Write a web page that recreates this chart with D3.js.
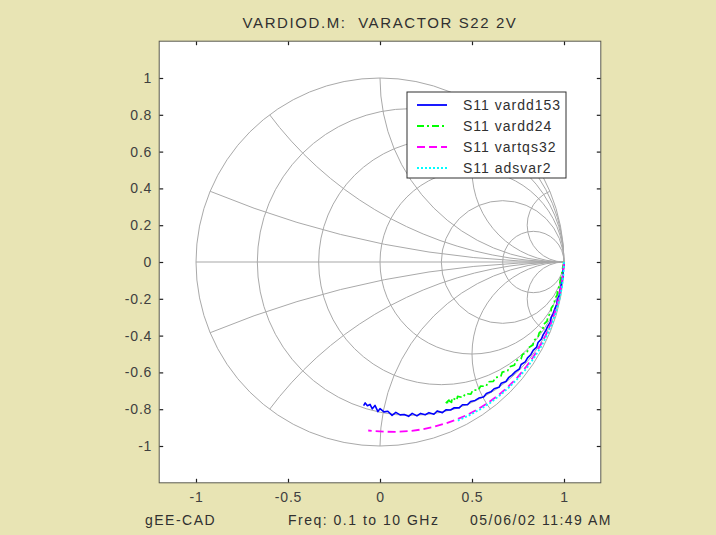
<!DOCTYPE html>
<html>
<head>
<meta charset="utf-8">
<script src="https://cdn.jsdelivr.net/npm/d3@7"></script>
<style>
  html, body { margin: 0; padding: 0; background: #e8e4b4; }
  svg { display: block; }
  text { font-family: "Liberation Sans", Arial, Helvetica, sans-serif; }
</style>
</head>
<body>
<svg id="chart" width="716" height="535"></svg>
<script>
// ---- Smith chart grid values ----
const resistanceCircles = [0.2, 0.5, 1, 2, 5];
const reactanceArcs = [0.2, 0.5, 1, 2, 5, -0.2, -0.5, -1, -2, -5];

// ---- axis ticks ----
const xTicks = [-1, -0.5, 0, 0.5, 1];
const xTickLabels = ["-1", "-0.5", "0", "0.5", "1"];
const yTicks = [1, 0.8, 0.6, 0.4, 0.2, 0, -0.2, -0.4, -0.6, -0.8, -1];
const yTickLabels = ["1", "0.8", "0.6", "0.4", "0.2", "0", "-0.2", "-0.4", "-0.6", "-0.8", "-1"];

// ---- S11 traces, 0.1 to 10 GHz: phase (deg) and magnitude ----
const vardd153Ang = [0, -1.5, -3, -4.5, -6, -7.5, -9, -10.5, -12, -13.5, -15, -16.5, -18, -19.5, -21, -22.5,
  -24, -25.5, -27, -28.5, -30, -31.5, -33, -34.5, -36, -37.5, -39, -40.5, -42, -43.5, -45, -46.5,
  -48, -49.5, -51, -52.5, -54, -55.5, -57, -58.5, -60, -61.5, -63, -64.5, -66, -67.5, -69, -70.5,
  -72, -73.5, -75, -76.5, -78, -79.5, -81, -82.5, -84, -85.5, -87, -88.5, -90, -90.8, -92, -93,
  -94, -95, -96, -96.5];
const vardd153Mag = [1.000, 0.998, 0.995, 0.997, 0.993, 0.992, 0.990, 0.991, 0.985, 0.988, 0.984, 0.983, 0.978, 0.982, 0.976, 0.975,
  0.971, 0.972, 0.964, 0.969, 0.961, 0.962, 0.956, 0.958, 0.948, 0.955, 0.947, 0.945, 0.940, 0.944, 0.932, 0.939,
  0.927, 0.928, 0.919, 0.925, 0.914, 0.913, 0.904, 0.910, 0.896, 0.902, 0.889, 0.891, 0.880, 0.886, 0.867, 0.878,
  0.861, 0.866, 0.852, 0.860, 0.841, 0.853, 0.839, 0.838, 0.822, 0.836, 0.812, 0.815, 0.797, 0.813, 0.780, 0.799,
  0.776, 0.784, 0.770, 0.786];

const vardd24Ang = [0, -1.5, -3, -4.5, -6, -7.5, -9, -10.5, -12, -13.5, -15, -16.5, -18, -19.5, -21, -22.5,
  -24, -25.5, -27, -28.5, -30, -31.5, -33, -34.5, -36, -37.5, -39, -40.5, -42, -43.5, -45, -46.5,
  -48, -49.5, -51, -52.5, -54, -55.5, -57, -58.5, -60, -61, -62, -63, -64, -64.5, -63.5, -65];
const vardd24Mag = [1.000, 0.994, 0.991, 0.988, 0.984, 0.985, 0.977, 0.979, 0.971, 0.974, 0.964, 0.969, 0.960, 0.963, 0.951, 0.958,
  0.947, 0.951, 0.938, 0.946, 0.932, 0.938, 0.923, 0.930, 0.913, 0.921, 0.905, 0.912, 0.894, 0.905, 0.887, 0.895,
  0.876, 0.889, 0.868, 0.879, 0.859, 0.872, 0.852, 0.864, 0.843, 0.860, 0.836, 0.856, 0.832, 0.853, 0.839, 0.846];

const vartqs32Ang = [0, -4, -8, -12, -16, -20, -24, -28, -32, -36, -40, -44, -48, -52, -56, -60, -64, -68, -72, -76,
  -80, -84, -88, -92, -94];
const vartqs32Mag = [1.000, 0.996, 0.993, 0.991, 0.989, 0.987, 0.985, 0.982, 0.980, 0.977, 0.975, 0.972, 0.969, 0.965,
  0.961, 0.957, 0.952, 0.947, 0.942, 0.938, 0.933, 0.928, 0.923, 0.919, 0.918];

const adsvar2Ang = [0, -4, -8, -12, -16, -20, -24, -28, -32, -36, -40, -44, -48, -52, -56, -60, -64];
const adsvar2Mag = [1.000, 0.999, 0.998, 0.996, 0.995, 0.993, 0.991, 0.989, 0.986, 0.984, 0.981, 0.978, 0.975,
  0.972, 0.968, 0.964, 0.960];

const seriesNames = ["S11 vardd153", "S11 vardd24", "S11 vartqs32", "S11 adsvar2"];
const seriesColors = ["#0000ff", "#00ff00", "#ff00ff", "#00ffff"];
const seriesDash = [null, "7,3,2,3", "8,4", "2,2"];
const seriesWidth = [1.6, 1.7, 1.8, 1.8];

const series = [
  { ang: vardd153Ang, mag: vardd153Mag },
  { ang: vardd24Ang, mag: vardd24Mag },
  { ang: vartqs32Ang, mag: vartqs32Mag },
  { ang: adsvar2Ang, mag: adsvar2Mag }
].map((s, i) => ({
  name: seriesNames[i], color: seriesColors[i], dash: seriesDash[i], width: seriesWidth[i],
  pts: s.ang.map((a, k) => {
    const t = a * Math.PI / 180;
    return [s.mag[k] * Math.cos(t), s.mag[k] * Math.sin(t)];
  })
}));

// ---- layout ----
const svg = d3.select("#chart");
const W = 716, H = 535;
const cx = 380, cy = 262, unit = 184;
const x = d3.scaleLinear().domain([-1.2, 1.2]).range([cx - 1.2 * unit, cx + 1.2 * unit]);
const y = d3.scaleLinear().domain([-1.2, 1.2]).range([cy + 1.2 * unit, cy - 1.2 * unit]);
const sx = v => x(v) - x(0);   // length along x in px
const textCol = "#303030";

svg.append("rect").attr("width", W).attr("height", H).attr("fill", "#e8e4b4");

const x0 = x(-1.2), x1 = x(1.2), y0 = y(1.2), y1 = y(-1.2);
svg.append("rect")
  .attr("x", x0).attr("y", y0).attr("width", x1 - x0).attr("height", y1 - y0)
  .attr("fill", "#ffffff");

// ---- Smith grid ----
svg.append("clipPath").attr("id", "unitDisc")
  .append("circle").attr("cx", x(0)).attr("cy", y(0)).attr("r", sx(1));

const grid = svg.append("g").attr("fill", "none").attr("stroke", "#a9a9a9").attr("stroke-width", 1);

grid.append("line")
  .attr("x1", x(-1)).attr("x2", x(1)).attr("y1", y(0)).attr("y2", y(0))
  .attr("stroke", "#c4c4c4").attr("stroke-width", 1.5);

grid.selectAll("circle.r").data(resistanceCircles).join("circle")
  .attr("class", "r")
  .attr("cx", r => x(r / (1 + r))).attr("cy", y(0))
  .attr("r", r => sx(1 / (1 + r)));

grid.append("g").attr("clip-path", "url(#unitDisc)")
  .selectAll("circle").data(reactanceArcs).join("circle")
  .attr("cx", x(1)).attr("cy", v => y(1 / v))
  .attr("r", v => sx(1 / Math.abs(v)));

grid.append("circle").attr("cx", x(0)).attr("cy", y(0)).attr("r", sx(1));

// ---- traces ----
const line = d3.line().x(d => x(d[0])).y(d => y(d[1]));
svg.append("g").selectAll("path").data(series).join("path")
  .attr("d", d => line(d.pts))
  .attr("fill", "none")
  .attr("stroke", d => d.color)
  .attr("stroke-width", d => d.width)
  .attr("stroke-linejoin", "round")
  .attr("stroke-dasharray", d => d.dash);

// ---- axes (ticks inside on all sides) ----
const gl = svg.append("g").attr("transform", `translate(${x0},0)`)
  .call(d3.axisLeft(y).tickValues(yTicks).tickSize(-4).tickPadding(7)
    .tickFormat((d, i) => yTickLabels[i]));
const gr = svg.append("g").attr("transform", `translate(${x1},0)`)
  .call(d3.axisRight(y).tickValues(yTicks).tickSize(-4).tickFormat(""));
const gb = svg.append("g").attr("transform", `translate(0,${y1})`)
  .call(d3.axisBottom(x).tickValues(xTicks).tickSize(-4).tickPadding(9)
    .tickFormat((d, i) => xTickLabels[i]));
const gt = svg.append("g").attr("transform", `translate(0,${y0})`)
  .call(d3.axisTop(x).tickValues(xTicks).tickSize(-4).tickFormat(""));
[gl, gr, gb, gt].forEach(g => {
  g.select(".domain").remove();
  g.selectAll(".tick line").attr("stroke", "#202020").attr("stroke-width", 1.2);
  g.selectAll(".tick text").attr("fill", "#404040").attr("font-size", 14)
    .attr("letter-spacing", 0.8)
    .style("font-family", "'Liberation Sans', Arial, sans-serif");
});

svg.append("rect")
  .attr("x", x0).attr("y", y0).attr("width", x1 - x0).attr("height", y1 - y0)
  .attr("fill", "none").attr("stroke", "#5a5a50").attr("stroke-width", 1);

// ---- legend ----
const lg = svg.append("g");
const lgX = 407, lgY = 92, lgW = 159, lgH = 86, rowH = 21;
lg.append("rect").attr("x", lgX).attr("y", lgY).attr("width", lgW).attr("height", lgH)
  .attr("fill", "#ffffff").attr("stroke", "#303030").attr("stroke-width", 1);
const rows = lg.selectAll("g").data(series).join("g")
  .attr("transform", (d, i) => `translate(0,${lgY + 13 + i * rowH})`);
rows.append("line")
  .attr("x1", lgX + 10).attr("x2", lgX + 40).attr("y1", 0).attr("y2", 0)
  .attr("stroke", d => d.color).attr("stroke-width", 1.8)
  .attr("stroke-dasharray", d => d.dash);
rows.append("text")
  .attr("x", lgX + 56).attr("y", 0).attr("dy", "0.35em")
  .attr("font-size", 14).attr("letter-spacing", 1.0).attr("fill", textCol)
  .text(d => d.name);

// ---- titles and footers ----
svg.append("text").attr("x", cx).attr("y", 23).attr("dy", "0.35em")
  .attr("text-anchor", "middle").attr("font-size", 15).attr("letter-spacing", 1.6)
  .attr("fill", textCol).attr("xml:space", "preserve").style("white-space", "pre")
  .text("VARDIOD.M:  VARACTOR S22 2V");

const footY = 520;
const footers = [
  { x: 145, t: "gEE-CAD" },
  { x: 288, t: "Freq: 0.1 to 10 GHz" },
  { x: 470, t: "05/06/02 11:49 AM" }
];
svg.append("g").selectAll("text").data(footers).join("text")
  .attr("x", d => d.x).attr("y", footY).attr("dy", "0.35em")
  .attr("font-size", 14).attr("letter-spacing", 1.5).attr("fill", textCol)
  .text(d => d.t);
</script>
</body>
</html>
